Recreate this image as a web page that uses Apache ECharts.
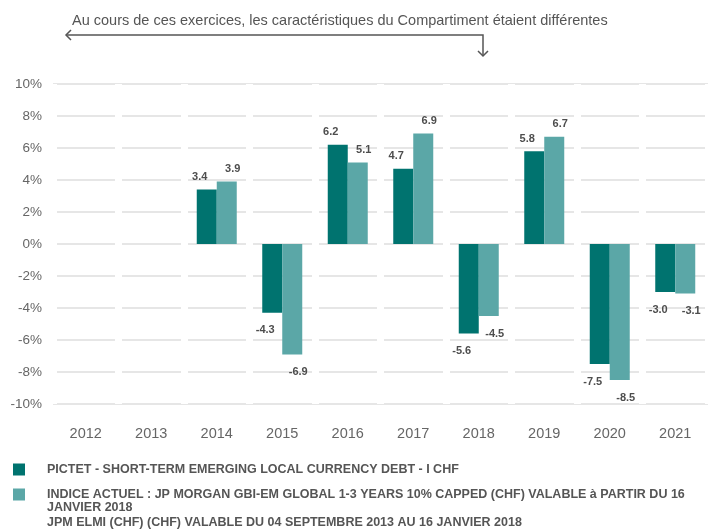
<!DOCTYPE html>
<html>
<head>
<meta charset="utf-8">
<script src="https://cdn.jsdelivr.net/npm/echarts@6/dist/echarts.min.js"></script>
<style>
  html, body { margin: 0; padding: 0; background: #fff; }
  #chart { width: 708px; height: 529px; }
</style>
</head>
<body>
<div id="chart"></div>
<script>
var years = ['2012', '2013', '2014', '2015', '2016', '2017', '2018', '2019', '2020', '2021'];
var fundValues = [null, null, 3.4, -4.3, 6.2, 4.7, -5.6, 5.8, -7.5, -3.0];
var indexValues = [null, null, 3.9, -6.9, 5.1, 6.9, -4.5, 6.7, -8.5, -3.1];
var fundName = 'PICTET - SHORT-TERM EMERGING LOCAL CURRENCY DEBT - I CHF';
var indexName = 'INDICE ACTUEL : JP MORGAN GBI-EM GLOBAL 1-3 YEARS 10% CAPPED (CHF) VALABLE à PARTIR DU 16';
var indexNameMore = 'JANVIER 2018\nJPM ELMI (CHF) (CHF) VALABLE DU 04 SEPTEMBRE 2013 AU 16 JANVIER 2018';
var note = 'Au cours de ces exercices, les caractéristiques du Compartiment étaient différentes';

var FONT = '"Liberation Sans", Arial, sans-serif';
var DARK = '#00736f';
var LIGHT = '#5ba7a7';

var chartDom = document.getElementById('chart');
var myChart = echarts.init(chartDom);
var option;

function barLabel() {
    return {
        show: true,
        fontFamily: FONT,
        fontSize: 11,
        fontWeight: 'bold',
        color: '#4d4d4d',
        formatter: function (p) {
            return p.value == null ? '' : p.value.toFixed(1);
        }
    };
}

function withLabels(values, dx) {
    return values.map(function (v) {
        if (v == null) return null;
        return {
            value: v,
            label: {
                position: v >= 0 ? 'top' : 'bottom',
                distance: v >= 0 ? 7 : 12,
                offset: [dx, 0]
            }
        };
    });
}

option = {
    animation: false,
    grid: { left: 53, right: -2, top: 84, height: 320 },
    legend: {
        orient: 'vertical',
        left: 8,
        top: 458,
        itemWidth: 12,
        itemHeight: 12,
        itemGap: 12,
        icon: 'rect',
        selectedMode: false,
        textStyle: {
            fontFamily: FONT,
            fontSize: 12.5,
            fontWeight: 'bold',
            color: '#555',
            padding: [0, 0, 0, 17]
        },
        data: [fundName, indexName]
    },
    graphic: [
        {
            type: 'text',
            left: 72,
            top: 13,
            style: { text: note, font: '14.5px ' + FONT, fill: '#555' }
        },
        {
            type: 'polyline',
            shape: { points: [[66, 35], [483, 35], [483, 56]] },
            style: { stroke: '#555', lineWidth: 1.5, fill: null }
        },
        {
            type: 'polyline',
            shape: { points: [[71, 30], [66, 35], [71, 40]] },
            style: { stroke: '#555', lineWidth: 1.5, fill: null }
        },
        {
            type: 'polyline',
            shape: { points: [[478, 51], [483, 56], [488, 51]] },
            style: { stroke: '#555', lineWidth: 1.5, fill: null }
        },
        {
            type: 'text',
            left: 47,
            top: 500,
            style: { text: indexNameMore, font: 'bold 12.5px ' + FONT, fill: '#555', lineHeight: 15 }
        }
    ],
    xAxis: {
        type: 'category',
        data: years,
        z: 1,
        axisLine: { show: false },
        axisTick: { show: false },
        axisLabel: { margin: 22, fontFamily: FONT, fontSize: 14.5, color: '#666' },
        splitLine: { show: true, lineStyle: { color: '#fff', width: 7 } }
    },
    yAxis: {
        type: 'value',
        min: -10,
        max: 10,
        interval: 2,
        z: 0,
        axisLine: { show: false },
        axisTick: { show: false },
        axisLabel: {
            margin: 11,
            fontFamily: FONT,
            fontSize: 13.5,
            color: '#666',
            formatter: '{value}%'
        },
        splitLine: { lineStyle: { color: '#e6e6e6', width: 2 } }
    },
    series: [
        {
            name: fundName,
            type: 'bar',
            barWidth: 20,
            barGap: '0%',
            itemStyle: { color: DARK },
            label: barLabel(),
            data: withLabels(fundValues, -7)
        },
        {
            name: indexName,
            type: 'bar',
            barWidth: 20,
            barGap: '0%',
            itemStyle: { color: LIGHT },
            label: barLabel(),
            data: withLabels(indexValues, 6)
        }
    ]
};

option && myChart.setOption(option);
</script>
</body>
</html>
